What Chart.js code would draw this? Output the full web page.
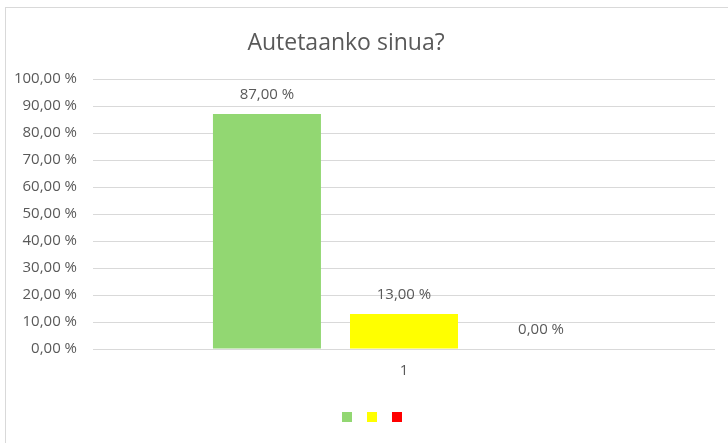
<!DOCTYPE html>
<html lang="fi">
<head>
    <meta charset="UTF-8">
    <title>Autetaanko sinua?</title>
    <script src="https://cdn.jsdelivr.net/npm/chart.js"></script>
    <style>
        body { margin: 0; background: #fff; }
        .wrap { position: relative; width: 728px; height: 443px; overflow: hidden; }
        .frame { position: absolute; left: 5px; top: 7px; width: 800px; height: 500px; border: 1px solid #d9d9d9; }
        canvas { position: absolute; left: 0; top: 0; }
    </style>
</head>
<body>
    <div class="wrap">
        <div class="frame"></div>
        <canvas id="chart" width="728" height="443"></canvas>
    </div>

    <script>
        const chartTitle = 'Autetaanko sinua?';
        const categories = ['1'];
        const seriesNames = ['', '', ''];
        const seriesValues = [[87], [13], [0]];
        const seriesColors = ['#92d772', '#ffff00', '#ff0000'];
        const yTicks = [0, 10, 20, 30, 40, 50, 60, 70, 80, 90, 100];

        const textColor = '#595959';
        const fontFamily = '"Open Sans", "Liberation Sans", sans-serif';

        function pct(v) {
            return v.toFixed(2).replace('.', ',') + ' %';
        }

        // title drawn slightly left of centre like the original
        const titlePlugin = {
            id: 'titlePlugin',
            afterDraw(chart) {
                const ctx = chart.ctx;
                ctx.save();
                ctx.font = '23px ' + fontFamily;
                ctx.fillStyle = textColor;
                ctx.textAlign = 'center';
                ctx.textBaseline = 'middle';
                ctx.fillText(chartTitle, 346, 43);
                ctx.restore();
            }
        };

        // value labels above each bar
        const valueLabels = {
            id: 'valueLabels',
            afterDatasetsDraw(chart) {
                const ctx = chart.ctx;
                ctx.save();
                ctx.font = '15px ' + fontFamily;
                ctx.fillStyle = textColor;
                ctx.textAlign = 'center';
                ctx.textBaseline = 'middle';
                chart.data.datasets.forEach((ds, i) => {
                    chart.getDatasetMeta(i).data.forEach((bar, j) => {
                        ctx.fillText(pct(ds.data[j]), bar.x, bar.y - 19);
                    });
                });
                ctx.restore();
            }
        };

        // legend sits a bit right of centre in the original
        const legendShift = {
            id: 'legendShift',
            afterLayout(chart) {
                chart.legend.left += 17;
                chart.legend.right += 17;
            }
        };

        new Chart(document.getElementById('chart'), {
            type: 'bar',
            data: {
                labels: categories,
                datasets: seriesValues.map((vals, i) => ({
                    label: seriesNames[i],
                    data: vals,
                    backgroundColor: seriesColors[i],
                    borderWidth: 0,
                    categoryPercentage: 0.661,
                    barPercentage: 0.788
                }))
            },
            options: {
                responsive: false,
                animation: false,
                layout: { padding: { left: 0, right: 13, top: 79, bottom: 11 } },
                plugins: {
                    title: { display: false },
                    tooltip: { enabled: false },
                    legend: {
                        position: 'bottom',
                        labels: {
                            boxWidth: 10,
                            boxHeight: 10,
                            padding: 10,
                            font: { size: 10, family: fontFamily }
                        }
                    }
                },
                scales: {
                    x: {
                        grid: { display: false },
                        border: { display: false },
                        ticks: { color: textColor, padding: 5, font: { size: 15, family: fontFamily } },
                        afterFit(scale) { scale.height = 53; }
                    },
                    y: {
                        min: 0,
                        max: 100,
                        afterBuildTicks(scale) { scale.ticks = yTicks.map(v => ({ value: v })); },
                        grid: { color: '#d9d9d9', drawTicks: false },
                        border: { display: false },
                        ticks: {
                            color: textColor,
                            padding: 16,
                            font: { size: 15, family: fontFamily },
                            callback: v => pct(v)
                        },
                        afterFit(scale) { scale.width = 93; }
                    }
                }
            },
            plugins: [titlePlugin, valueLabels, legendShift]
        });
    </script>
</body>
</html>
